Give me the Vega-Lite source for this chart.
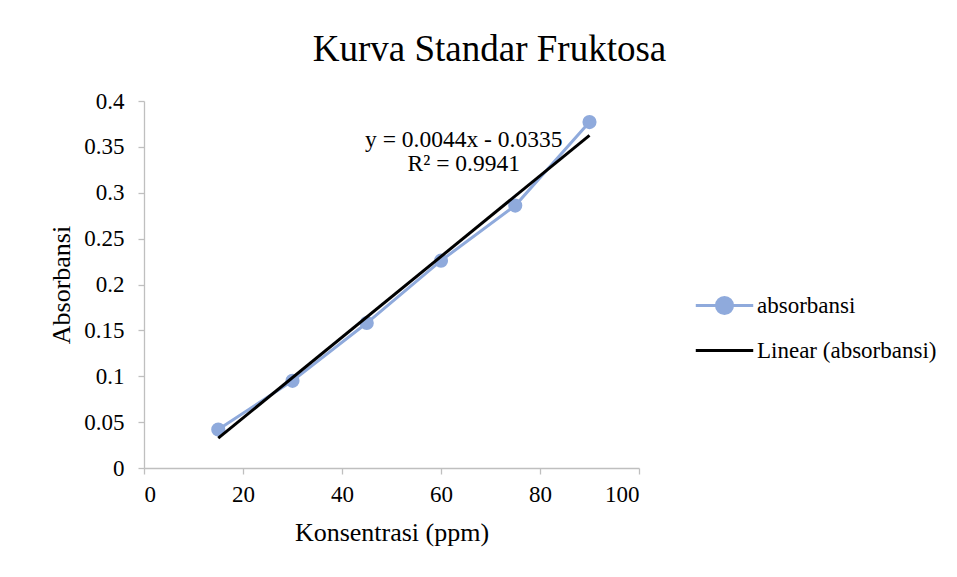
{
  "$schema": "https://vega.github.io/schema/vega-lite/v6.json",
  "width": 495,
  "height": 367,
  "autosize": {"type": "none"},
  "padding": {"left": 144, "top": 101, "right": 318, "bottom": 109},
  "background": "white",
  "title": {
    "text": "Kurva Standar Fruktosa",
    "font": "Liberation Serif",
    "fontSize": 37,
    "fontWeight": "normal",
    "color": "#000000",
    "anchor": "middle",
    "dx": 98,
    "offset": 21
  },
  "datasets": {
    "obs": [
      {"konsentrasi": 15, "absorbansi": 0.042, "series": "absorbansi"},
      {"konsentrasi": 30, "absorbansi": 0.095, "series": "absorbansi"},
      {"konsentrasi": 45, "absorbansi": 0.158, "series": "absorbansi"},
      {"konsentrasi": 60, "absorbansi": 0.226, "series": "absorbansi"},
      {"konsentrasi": 75, "absorbansi": 0.286, "series": "absorbansi"},
      {"konsentrasi": 90, "absorbansi": 0.377, "series": "absorbansi"}
    ],
    "trend": [
      {"konsentrasi": 15, "absorbansi": 0.0325, "series": "Linear (absorbansi)"},
      {"konsentrasi": 90, "absorbansi": 0.3625, "series": "Linear (absorbansi)"}
    ],
    "eq": [
      {"konsentrasi": 64.6, "absorbansi": 0.3575, "label": "y = 0.0044x - 0.0335"},
      {"konsentrasi": 64.6, "absorbansi": 0.3313, "label": "R² = 0.9941"}
    ]
  },
  "config": {
    "view": {"stroke": null},
    "font": "Liberation Serif",
    "axis": {
      "labelFont": "Liberation Serif",
      "titleFont": "Liberation Serif",
      "labelFontSize": 23,
      "titleFontSize": 26,
      "labelColor": "#000000",
      "titleColor": "#000000",
      "titleFontWeight": "normal",
      "domainColor": "#bfbfbf",
      "domainWidth": 1.3,
      "tickColor": "#bfbfbf",
      "tickWidth": 1.3,
      "grid": false,
      "tickSize": 6
    }
  },
  "layer": [
    {
      "data": {"name": "obs"},
      "mark": {"type": "line", "strokeWidth": 3, "point": {"size": 200, "filled": true, "opacity": 1}},
      "encoding": {
        "x": {
          "field": "konsentrasi",
          "type": "quantitative",
          "scale": {"domain": [0, 100], "nice": false},
          "axis": {"values": [0, 20, 40, 60, 80, 100], "title": "Konsentrasi (ppm)", "titlePadding": 13, "labelPadding": 9}
        },
        "y": {
          "field": "absorbansi",
          "type": "quantitative",
          "scale": {"domain": [0, 0.4], "nice": false},
          "axis": {"values": [0, 0.05, 0.1, 0.15, 0.2, 0.25, 0.3, 0.35, 0.4], "format": ".2~f", "title": "Absorbansi", "titlePadding": 9, "labelPadding": 14}
        },
        "color": {
          "field": "series",
          "type": "nominal",
          "scale": {"domain": ["absorbansi", "Linear (absorbansi)"], "range": ["#8faadc", "#000000"]},
          "legend": {
            "title": null,
            "orient": "none",
            "legendX": 550,
            "legendY": 174,
            "symbolType": "stroke",
            "symbolSize": 3300,
            "symbolStrokeWidth": 3,
            "labelFont": "Liberation Serif",
            "labelFontSize": 23,
            "labelColor": "#000000",
            "labelLimit": 400,
            "rowPadding": -4,
            "labelOffset": 2,
            "encode": {
              "symbols": {
                "update": {
                  "shape": {"signal": "datum.value === 'absorbansi' ? 'M-1,0H-0.28A0.28,0.28,0,1,1,0.28,0H1M0.28,0A0.28,0.28,0,1,1,-0.28,0' : 'M-1,0H1'"},
                  "fill": {"signal": "datum.value === 'absorbansi' ? '#8faadc' : 'transparent'"},
                  "fillOpacity": {"value": 1}
                }
              }
            }
          }
        }
      }
    },
    {
      "data": {"name": "trend"},
      "mark": {"type": "line", "strokeWidth": 3},
      "encoding": {
        "x": {"field": "konsentrasi", "type": "quantitative"},
        "y": {"field": "absorbansi", "type": "quantitative"},
        "color": {"field": "series", "type": "nominal"}
      }
    },
    {
      "data": {"name": "eq"},
      "mark": {"type": "text", "font": "Liberation Serif", "fontSize": 23.5, "color": "#000000", "align": "center", "baseline": "middle"},
      "encoding": {
        "x": {"field": "konsentrasi", "type": "quantitative"},
        "y": {"field": "absorbansi", "type": "quantitative"},
        "text": {"field": "label"}
      }
    }
  ]
}
